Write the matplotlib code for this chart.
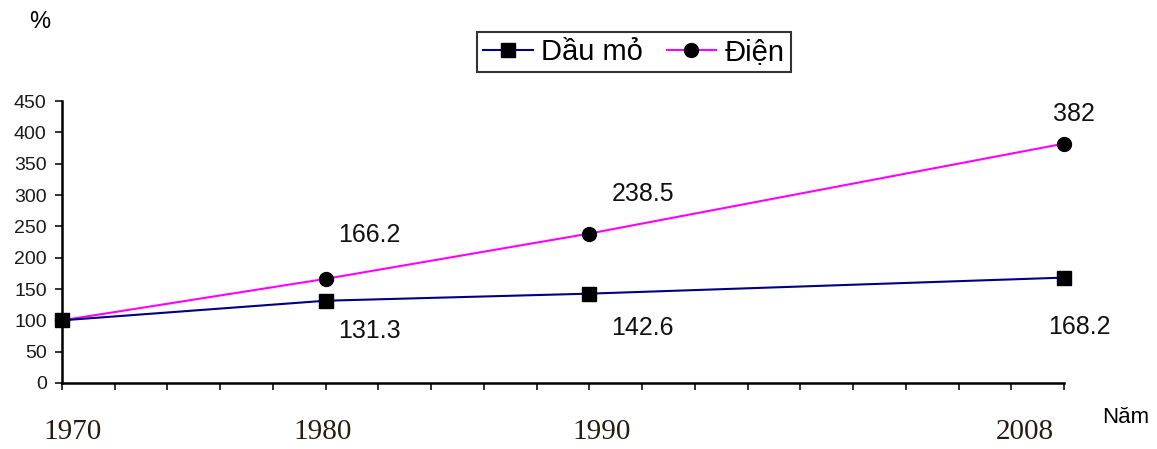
import matplotlib.pyplot as plt
import numpy as np

# growth index of oil and electricity output (1970 = 100)
years = [1970, 1980, 1990, 2008]
dau_mo = [100, 131.3, 142.6, 168.2]
dien = [100, 166.2, 238.5, 382]
year_labels = ['1970', '1980', '1990', '2008']

sans = ['Liberation Sans', 'DejaVu Sans']
serif = ['Liberation Serif', 'DejaVu Serif']

fig = plt.figure(figsize=(11.57, 4.49), dpi=100)
ax = fig.add_axes([0.0536, 0.147, 0.866, 0.628])

l_dien, = ax.plot(years, dien, color='#ff00ff', lw=1.5, marker='o', ms=10,
                  mfc='black', mec='black', clip_on=False, zorder=3)
l_dau, = ax.plot(years, dau_mo, color='#000080', lw=1.5, marker='s', ms=10,
                 mfc='black', mec='black', clip_on=False, zorder=4)

ax.set_xlim(1970, 2008)
ax.set_ylim(0, 450)
ax.set_yticks(np.arange(0, 451, 50))
ax.set_xticks(np.arange(1970, 2009, 2))
ax.set_xticklabels([])
for lab in ax.get_yticklabels():
    lab.set_family(sans)
    lab.set_fontsize(14)
    lab.set_color('#1a1a1a')

ax.spines['top'].set_visible(False)
ax.spines['right'].set_visible(False)
ax.spines['left'].set_linewidth(1.8)
ax.spines['bottom'].set_linewidth(1.8)
ax.tick_params(axis='both', direction='out', length=5, width=1.3, color='#222222')
ax.tick_params(axis='y', pad=6)

# value labels, offsets in pixels from each point
dau_off = [None, (12, -30), (22, -34), (-16, -49)]
dien_off = [None, (12, 44), (22, 40), (-11, 30)]
for x, y, off in zip(years, dau_mo, dau_off):
    if off:
        ax.annotate(f'{y:g}', (x, y), xytext=off, textcoords='offset pixels',
                    fontsize=18, family=sans, va='center', ha='left', color='#111111')
for x, y, off in zip(years, dien, dien_off):
    if off:
        ax.annotate(f'{y:g}', (x, y), xytext=off, textcoords='offset pixels',
                    fontsize=18, family=sans, va='center', ha='left', color='#111111')

# year labels under the axis
year_shift = [0.4, -0.1, 0.45, -1.5]
for x, s, dx in zip(years, year_labels, year_shift):
    ax.text(x + dx, -78, s, fontsize=21, family=serif, ha='center', va='center',
            color='#2a1a10')

fig.text(0.034, 0.951, '%', fontsize=17, family=sans, ha='center', va='center')
fig.text(0.973, 0.07, 'Năm', fontsize=16, family=sans, ha='center', va='center')

leg = fig.legend([l_dau, l_dien], ['Dầu mỏ', 'Điện'], loc='center',
                 bbox_to_anchor=(0.548, 0.884), ncol=2, frameon=True,
                 fancybox=False, prop={'family': sans, 'size': 21},
                 handlelength=1.7, handletextpad=0.3, columnspacing=0.8,
                 borderpad=0.2, borderaxespad=0)
leg.get_frame().set_edgecolor('black')
leg.get_frame().set_linewidth(1.5)
for h in leg.legend_handles:
    h.set_markersize(10)

fig.savefig('out.png', dpi=100)
